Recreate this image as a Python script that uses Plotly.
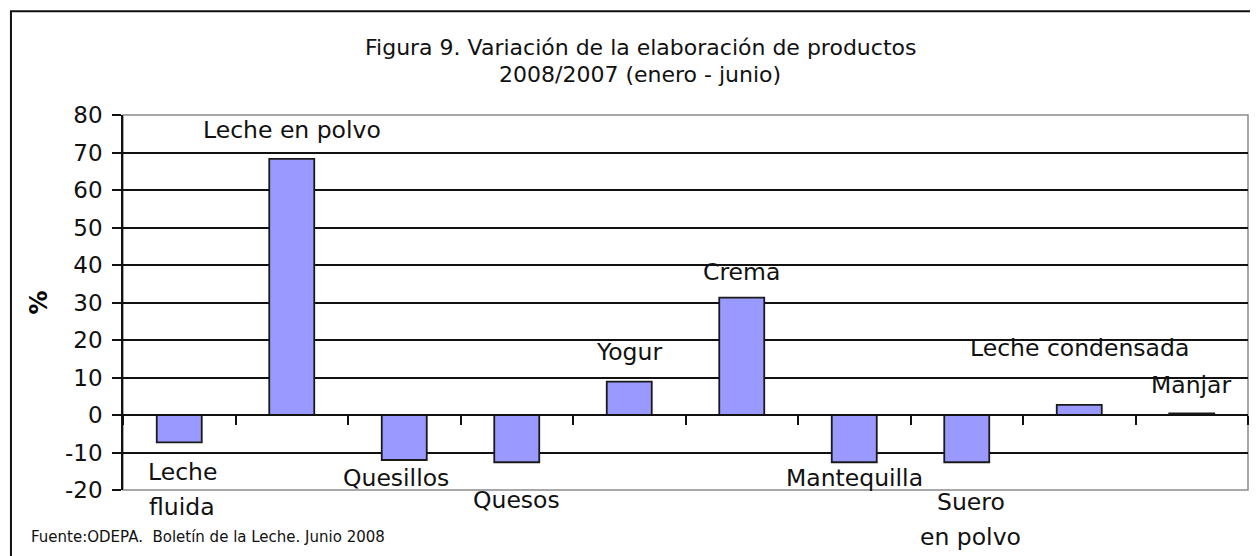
import plotly.graph_objects as go

categories = ["Leche fluida", "Leche en polvo", "Quesillos", "Quesos", "Yogur",
              "Crema", "Mantequilla", "Suero en polvo", "Leche condensada", "Manjar"]
values = [-7.3, 68.3, -12.0, -12.6, 8.9, 31.3, -12.6, -12.6, 2.7, 0.4]
label_lines = [["Leche", "fluida"], ["Leche en polvo"], ["Quesillos"], ["Quesos"], ["Yogur"],
               ["Crema"], ["Mantequilla"], ["Suero", "en polvo"], ["Leche condensada"], ["Manjar"]]
y_ticks = [-20, -10, 0, 10, 20, 30, 40, 50, 60, 70, 80]
title_lines = ["Figura 9. Variación de la elaboración de productos", "2008/2007 (enero - junio)"]
source_text = "Fuente:ODEPA.  Boletín de la Leche. Junio 2008"

# label placement (style): y of first line in axis units, x shift in px
label_y = [-15.2, 76.0, -16.8, -22.7, 16.8, 38.1, -16.8, -23.2, 17.9, 8.0]
label_dx = [3, 0, -8, 0, 0, 0, 0, 4, 0, 0]
line_gap = 9.3
YMIN, YMAX = -20, 80

FONT = "DejaVu Sans"
fs = 23.5

fig = go.Figure()
fig.add_trace(go.Bar(
    x=categories, y=values, width=0.4,
    marker=dict(color="#9999ff", line=dict(color="#1a1a1a", width=1.8)),
    hoverinfo="x+y",
))

def to_paper(v):
    return (v - YMIN) / (YMAX - YMIN)

annotations = []
for cat, lines, ly, dx in zip(categories, label_lines, label_y, label_dx):
    for k, t in enumerate(lines):
        annotations.append(dict(x=cat, y=to_paper(ly - k * line_gap), xref="x", yref="paper", text=t,
                                showarrow=False, xshift=dx, xanchor="center", yanchor="middle",
                                font=dict(family=FONT, size=fs, color="#111")))

annotations.append(dict(x=-0.0835, y=-0.125, xref="paper", yref="paper", text=source_text,
                        showarrow=False, xanchor="left", yanchor="middle",
                        font=dict(family=FONT, size=15, color="#111")))
annotations.append(dict(x=0.4596, y=1.181, xref="paper", yref="paper", text=title_lines[0],
                        showarrow=False, xanchor="center", yanchor="middle",
                        font=dict(family=FONT, size=22, color="#111")))
annotations.append(dict(x=0.4596, y=1.107, xref="paper", yref="paper", text=title_lines[1],
                        showarrow=False, xanchor="center", yanchor="middle",
                        font=dict(family=FONT, size=22, color="#111")))
annotations.append(dict(x=-0.0755, y=0.5, xref="paper", yref="paper", text="<b>%</b>",
                        showarrow=False, textangle=-90, xanchor="center", yanchor="middle",
                        font=dict(family=FONT, size=24, color="#000")))

shapes = [
    dict(type="rect", xref="paper", yref="paper", x0=0, x1=1, y0=0, y1=1,
         line=dict(color="#8c8c8c", width=1.5), layer="below"),
    dict(type="rect", xref="paper", yref="paper", x0=-0.0996, x1=1.03, y0=-0.3, y1=1.277,
         line=dict(color="#111", width=2)),
]

fig.update_layout(
    width=1250, height=548,
    margin=dict(l=115, r=10, t=107, b=66),
    paper_bgcolor="white", plot_bgcolor="white",
    showlegend=False,
    annotations=annotations,
    shapes=shapes,
    xaxis=dict(
        type="category", anchor="free", position=to_paper(0),
        showticklabels=False, showline=True, linecolor="#111", linewidth=1.5,
        ticks="outside", tickson="boundaries", ticklen=9, tickwidth=1.5, tickcolor="#111",
        showgrid=False, zeroline=False, range=[-0.5, 9.5],
    ),
    yaxis=dict(
        range=[YMIN, YMAX], tickvals=y_ticks, ticktext=[str(v) for v in y_ticks],
        showline=True, linecolor="#111", linewidth=1.5,
        ticks="outside", ticklen=9, tickwidth=1.5, tickcolor="#111",
        ticklabelstandoff=5,
        showgrid=True, gridcolor="#111", gridwidth=1.5, zeroline=False,
        tickfont=dict(family=FONT, size=23, color="#111"),
    ),
)

fig.write_html("out.html")
